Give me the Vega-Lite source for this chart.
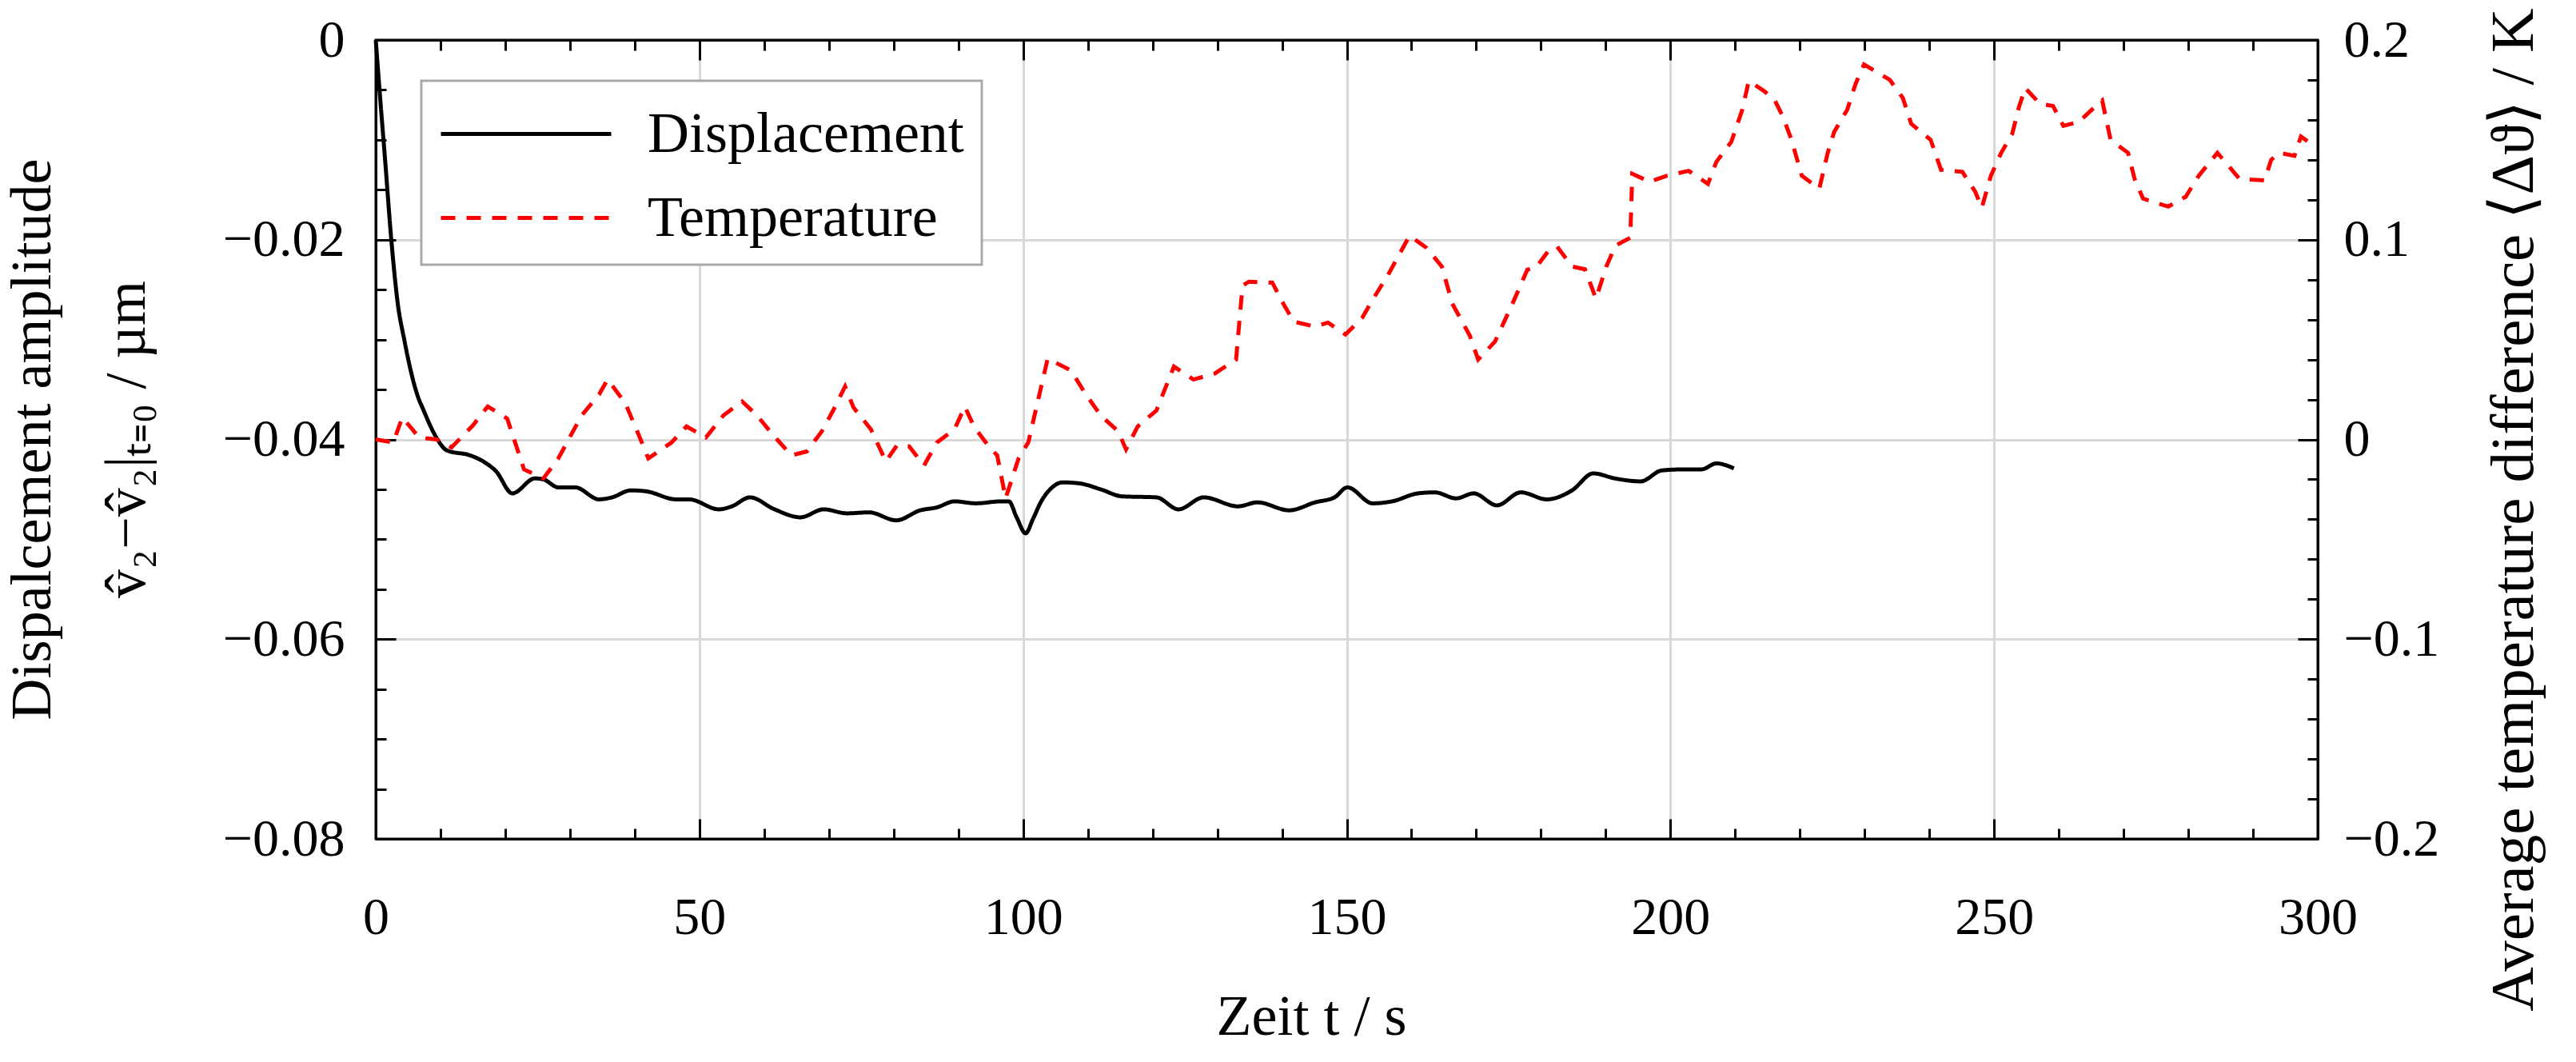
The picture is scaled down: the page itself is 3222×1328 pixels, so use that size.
{
"$schema": "https://vega.github.io/schema/vega-lite/v6.json",
"width": 2429, "height": 999,
"autosize": {"type": "none"},
"padding": {"left": 470, "top": 50, "right": 323, "bottom": 279},
"background": "white",
"config": {
  "font": "Liberation Serif",
  "view": {"stroke": "black", "strokeWidth": 3},
  "axis": {"tickColor": "black", "tickWidth": 3, "domainColor": "black", "domainWidth": 3, "labelColor": "black", "labelFont": "Liberation Serif", "labelFontSize": 66, "titleFont": "Liberation Serif", "titleFontSize": 72, "titleFontWeight": "normal", "titleColor": "black", "gridColor": "#d9d9d9", "gridWidth": 3, "labelFlush": false, "labelOverlap": false},
  "legend": {"strokeWidth": 3}
},
"data": {"values": [
{"t":0,"v":0,"series":"Displacement"},
{"t":0.7,"v":-0.006,"series":"Displacement"},
{"t":1.44,"v":-0.012,"series":"Displacement"},
{"t":2.4,"v":-0.02,"series":"Displacement"},
{"t":3.4,"v":-0.0264,"series":"Displacement"},
{"t":4.4,"v":-0.030,"series":"Displacement"},
{"t":5.4,"v":-0.0331,"series":"Displacement"},
{"t":6.4,"v":-0.0355,"series":"Displacement"},
{"t":7.4,"v":-0.0371,"series":"Displacement"},
{"t":8.4,"v":-0.0386,"series":"Displacement"},
{"t":9.35,"v":-0.0398,"series":"Displacement"},
{"t":11.0,"v":-0.0411,"series":"Displacement"},
{"t":14.6,"v":-0.0416,"series":"Displacement"},
{"t":16.6,"v":-0.0422,"series":"Displacement"},
{"t":18.6,"v":-0.0432,"series":"Displacement"},
{"t":21.1,"v":-0.0454,"series":"Displacement"},
{"t":24.6,"v":-0.0439,"series":"Displacement"},
{"t":25.9,"v":-0.0440,"series":"Displacement"},
{"t":28.2,"v":-0.0448,"series":"Displacement"},
{"t":30.8,"v":-0.0448,"series":"Displacement"},
{"t":34.5,"v":-0.0460,"series":"Displacement"},
{"t":36.5,"v":-0.0458,"series":"Displacement"},
{"t":39.4,"v":-0.0451,"series":"Displacement"},
{"t":41.8,"v":-0.0452,"series":"Displacement"},
{"t":46.4,"v":-0.0460,"series":"Displacement"},
{"t":48.4,"v":-0.0460,"series":"Displacement"},
{"t":53.0,"v":-0.0470,"series":"Displacement"},
{"t":55.0,"v":-0.0467,"series":"Displacement"},
{"t":57.8,"v":-0.0458,"series":"Displacement"},
{"t":61.6,"v":-0.0470,"series":"Displacement"},
{"t":65.6,"v":-0.0478,"series":"Displacement"},
{"t":69.2,"v":-0.0470,"series":"Displacement"},
{"t":72.8,"v":-0.0474,"series":"Displacement"},
{"t":76.2,"v":-0.0473,"series":"Displacement"},
{"t":80.4,"v":-0.0481,"series":"Displacement"},
{"t":84.1,"v":-0.0471,"series":"Displacement"},
{"t":86.7,"v":-0.0468,"series":"Displacement"},
{"t":89.4,"v":-0.0462,"series":"Displacement"},
{"t":92.7,"v":-0.0464,"series":"Displacement"},
{"t":96.6,"v":-0.0462,"series":"Displacement"},
{"t":97.8,"v":-0.0462,"series":"Displacement"},
{"t":99.0,"v":-0.0478,"series":"Displacement"},
{"t":100.4,"v":-0.0494,"series":"Displacement"},
{"t":101.5,"v":-0.0480,"series":"Displacement"},
{"t":102.8,"v":-0.0462,"series":"Displacement"},
{"t":104.5,"v":-0.0448,"series":"Displacement"},
{"t":106.1,"v":-0.0443,"series":"Displacement"},
{"t":108.7,"v":-0.0444,"series":"Displacement"},
{"t":112.0,"v":-0.0450,"series":"Displacement"},
{"t":115.3,"v":-0.0457,"series":"Displacement"},
{"t":120.6,"v":-0.0458,"series":"Displacement"},
{"t":124.0,"v":-0.0470,"series":"Displacement"},
{"t":127.9,"v":-0.0458,"series":"Displacement"},
{"t":133.2,"v":-0.0467,"series":"Displacement"},
{"t":136.2,"v":-0.0463,"series":"Displacement"},
{"t":141.1,"v":-0.0471,"series":"Displacement"},
{"t":145.1,"v":-0.0463,"series":"Displacement"},
{"t":148.1,"v":-0.0458,"series":"Displacement"},
{"t":150.1,"v":-0.0448,"series":"Displacement"},
{"t":154.0,"v":-0.0464,"series":"Displacement"},
{"t":157.0,"v":-0.0462,"series":"Displacement"},
{"t":161.0,"v":-0.0454,"series":"Displacement"},
{"t":163.6,"v":-0.0453,"series":"Displacement"},
{"t":166.9,"v":-0.0459,"series":"Displacement"},
{"t":169.6,"v":-0.0454,"series":"Displacement"},
{"t":173.2,"v":-0.0466,"series":"Displacement"},
{"t":176.9,"v":-0.0453,"series":"Displacement"},
{"t":180.9,"v":-0.0460,"series":"Displacement"},
{"t":184.8,"v":-0.0451,"series":"Displacement"},
{"t":188.1,"v":-0.0434,"series":"Displacement"},
{"t":191.4,"v":-0.0439,"series":"Displacement"},
{"t":195.4,"v":-0.0442,"series":"Displacement"},
{"t":198.7,"v":-0.0431,"series":"Displacement"},
{"t":202.0,"v":-0.0430,"series":"Displacement"},
{"t":204.8,"v":-0.0430,"series":"Displacement"},
{"t":207.1,"v":-0.0424,"series":"Displacement"},
{"t":209.8,"v":-0.0429,"series":"Displacement"},
{"t":0,"v":0.0,"series":"Temperature"},
{"t":2.7,"v":-0.0015,"series":"Temperature"},
{"t":4.1,"v":0.011,"series":"Temperature"},
{"t":6.7,"v":0.001,"series":"Temperature"},
{"t":9.4,"v":0.0,"series":"Temperature"},
{"t":11.7,"v":-0.004,"series":"Temperature"},
{"t":15.0,"v":0.007,"series":"Temperature"},
{"t":17.3,"v":0.0165,"series":"Temperature"},
{"t":20.3,"v":0.0105,"series":"Temperature"},
{"t":22.9,"v":-0.015,"series":"Temperature"},
{"t":25.9,"v":-0.0195,"series":"Temperature"},
{"t":28.2,"v":-0.0095,"series":"Temperature"},
{"t":31.8,"v":0.012,"series":"Temperature"},
{"t":34.5,"v":0.0225,"series":"Temperature"},
{"t":35.8,"v":0.030,"series":"Temperature"},
{"t":38.5,"v":0.0185,"series":"Temperature"},
{"t":40.4,"v":0.004,"series":"Temperature"},
{"t":42.1,"v":-0.0095,"series":"Temperature"},
{"t":45.7,"v":-0.0015,"series":"Temperature"},
{"t":48.0,"v":0.0065,"series":"Temperature"},
{"t":51.0,"v":0.001,"series":"Temperature"},
{"t":53.7,"v":0.012,"series":"Temperature"},
{"t":56.6,"v":0.019,"series":"Temperature"},
{"t":58.9,"v":0.012,"series":"Temperature"},
{"t":61.3,"v":0.0025,"series":"Temperature"},
{"t":64.2,"v":-0.008,"series":"Temperature"},
{"t":66.6,"v":-0.006,"series":"Temperature"},
{"t":68.9,"v":0.004,"series":"Temperature"},
{"t":70.9,"v":0.016,"series":"Temperature"},
{"t":72.5,"v":0.0265,"series":"Temperature"},
{"t":73.8,"v":0.016,"series":"Temperature"},
{"t":76.5,"v":0.005,"series":"Temperature"},
{"t":78.8,"v":-0.011,"series":"Temperature"},
{"t":80.5,"v":-0.003,"series":"Temperature"},
{"t":82.4,"v":-0.0035,"series":"Temperature"},
{"t":84.7,"v":-0.013,"series":"Temperature"},
{"t":86.7,"v":-0.0015,"series":"Temperature"},
{"t":89.4,"v":0.005,"series":"Temperature"},
{"t":91.0,"v":0.0165,"series":"Temperature"},
{"t":92.4,"v":0.0065,"series":"Temperature"},
{"t":94.7,"v":-0.0035,"series":"Temperature"},
{"t":96.0,"v":-0.008,"series":"Temperature"},
{"t":97.3,"v":-0.0295,"series":"Temperature"},
{"t":99.3,"v":-0.0095,"series":"Temperature"},
{"t":100.8,"v":-0.0015,"series":"Temperature"},
{"t":102.8,"v":0.0265,"series":"Temperature"},
{"t":103.8,"v":0.0405,"series":"Temperature"},
{"t":107.4,"v":0.0345,"series":"Temperature"},
{"t":109.7,"v":0.0225,"series":"Temperature"},
{"t":112.0,"v":0.012,"series":"Temperature"},
{"t":114.7,"v":0.004,"series":"Temperature"},
{"t":115.9,"v":-0.005,"series":"Temperature"},
{"t":117.7,"v":0.0065,"series":"Temperature"},
{"t":120.6,"v":0.0145,"series":"Temperature"},
{"t":123.3,"v":0.0365,"series":"Temperature"},
{"t":126.3,"v":0.030,"series":"Temperature"},
{"t":129.6,"v":0.033,"series":"Temperature"},
{"t":132.9,"v":0.040,"series":"Temperature"},
{"t":133.9,"v":0.077,"series":"Temperature"},
{"t":134.9,"v":0.079,"series":"Temperature"},
{"t":138.5,"v":0.0785,"series":"Temperature"},
{"t":140.2,"v":0.068,"series":"Temperature"},
{"t":141.8,"v":0.059,"series":"Temperature"},
{"t":145.1,"v":0.0565,"series":"Temperature"},
{"t":147.1,"v":0.0585,"series":"Temperature"},
{"t":149.8,"v":0.0525,"series":"Temperature"},
{"t":152.4,"v":0.061,"series":"Temperature"},
{"t":154.1,"v":0.0705,"series":"Temperature"},
{"t":156.4,"v":0.0825,"series":"Temperature"},
{"t":159.7,"v":0.102,"series":"Temperature"},
{"t":162.3,"v":0.096,"series":"Temperature"},
{"t":164.7,"v":0.0865,"series":"Temperature"},
{"t":166.3,"v":0.068,"series":"Temperature"},
{"t":169.0,"v":0.052,"series":"Temperature"},
{"t":170.3,"v":0.040,"series":"Temperature"},
{"t":172.9,"v":0.049,"series":"Temperature"},
{"t":175.6,"v":0.068,"series":"Temperature"},
{"t":177.9,"v":0.085,"series":"Temperature"},
{"t":179.2,"v":0.086,"series":"Temperature"},
{"t":181.2,"v":0.0946,"series":"Temperature"},
{"t":182.5,"v":0.0965,"series":"Temperature"},
{"t":184.8,"v":0.0866,"series":"Temperature"},
{"t":186.8,"v":0.0852,"series":"Temperature"},
{"t":188.5,"v":0.0705,"series":"Temperature"},
{"t":190.1,"v":0.0866,"series":"Temperature"},
{"t":191.5,"v":0.097,"series":"Temperature"},
{"t":193.8,"v":0.101,"series":"Temperature"},
{"t":194.1,"v":0.133,"series":"Temperature"},
{"t":196.8,"v":0.129,"series":"Temperature"},
{"t":199.4,"v":0.132,"series":"Temperature"},
{"t":202.8,"v":0.1345,"series":"Temperature"},
{"t":205.8,"v":0.128,"series":"Temperature"},
{"t":207.1,"v":0.139,"series":"Temperature"},
{"t":209.4,"v":0.149,"series":"Temperature"},
{"t":211.1,"v":0.165,"series":"Temperature"},
{"t":212.1,"v":0.1795,"series":"Temperature"},
{"t":214.4,"v":0.1746,"series":"Temperature"},
{"t":216.0,"v":0.1705,"series":"Temperature"},
{"t":217.4,"v":0.1615,"series":"Temperature"},
{"t":218.7,"v":0.150,"series":"Temperature"},
{"t":220.3,"v":0.132,"series":"Temperature"},
{"t":223.0,"v":0.1256,"series":"Temperature"},
{"t":224.3,"v":0.1435,"series":"Temperature"},
{"t":225.3,"v":0.154,"series":"Temperature"},
{"t":227.3,"v":0.165,"series":"Temperature"},
{"t":228.6,"v":0.178,"series":"Temperature"},
{"t":229.9,"v":0.1877,"series":"Temperature"},
{"t":233.9,"v":0.180,"series":"Temperature"},
{"t":235.9,"v":0.171,"series":"Temperature"},
{"t":237.2,"v":0.158,"series":"Temperature"},
{"t":240.2,"v":0.150,"series":"Temperature"},
{"t":241.8,"v":0.135,"series":"Temperature"},
{"t":245.1,"v":0.134,"series":"Temperature"},
{"t":247.1,"v":0.124,"series":"Temperature"},
{"t":248.1,"v":0.116,"series":"Temperature"},
{"t":249.5,"v":0.132,"series":"Temperature"},
{"t":251.1,"v":0.1435,"series":"Temperature"},
{"t":252.8,"v":0.153,"series":"Temperature"},
{"t":253.8,"v":0.166,"series":"Temperature"},
{"t":254.8,"v":0.176,"series":"Temperature"},
{"t":257.1,"v":0.168,"series":"Temperature"},
{"t":259.1,"v":0.167,"series":"Temperature"},
{"t":260.7,"v":0.157,"series":"Temperature"},
{"t":263.1,"v":0.159,"series":"Temperature"},
{"t":265.4,"v":0.166,"series":"Temperature"},
{"t":266.7,"v":0.1697,"series":"Temperature"},
{"t":268.0,"v":0.150,"series":"Temperature"},
{"t":270.7,"v":0.1435,"series":"Temperature"},
{"t":271.7,"v":0.1305,"series":"Temperature"},
{"t":273.0,"v":0.1206,"series":"Temperature"},
{"t":276.9,"v":0.1166,"series":"Temperature"},
{"t":279.6,"v":0.1215,"series":"Temperature"},
{"t":281.6,"v":0.132,"series":"Temperature"},
{"t":284.5,"v":0.1435,"series":"Temperature"},
{"t":286.2,"v":0.137,"series":"Temperature"},
{"t":287.9,"v":0.1305,"series":"Temperature"},
{"t":291.8,"v":0.1297,"series":"Temperature"},
{"t":292.8,"v":0.140,"series":"Temperature"},
{"t":294.1,"v":0.1435,"series":"Temperature"},
{"t":296.4,"v":0.142,"series":"Temperature"},
{"t":297.4,"v":0.1517,"series":"Temperature"},
{"t":299.0,"v":0.148,"series":"Temperature"}
]},
"resolve": {"scale": {"y": "independent"}, "axis": {"x": "independent", "y": "independent"}},
"layer": [
 {
  "transform": [{"filter": "datum.series === 'Displacement'"}],
  "mark": {"type": "line", "strokeWidth": 5, "interpolate": "monotone"},
  "encoding": {
   "x": {"field": "t", "type": "quantitative", "scale": {"domain": [0, 300], "nice": false, "zero": false},
    "axis": {"orient": "bottom", "values": [0,50,100,150,200,250,300], "format": "d", "tickSize": -25, "labelPadding": 91, "grid": true,
     "gridOpacity": {"condition": {"test": "datum.value > 0 && datum.value < 300", "value": 1}, "value": 0},
     "title": "Zeit t / s", "titleX": 1170, "titleY": 244, "titleBaseline": "alphabetic", "titleAlign": "center"}},
   "y": {"field": "v", "type": "quantitative", "scale": {"domain": [-0.08, 0], "nice": false, "zero": false},
    "axis": {"orient": "left", "values": [-0.08,-0.06,-0.04,-0.02,0], "format": ".2~f", "tickSize": -25, "labelPadding": 64, "grid": true,
     "gridOpacity": {"condition": {"test": "datum.value > -0.079 && datum.value < -0.001", "value": 1}, "value": 0},
     "title": ["Dispalcement amplitude", "v̂₂−v̂₂|ₜ₌₀ / µm"], "titleAngle": 270, "titleBaseline": "alphabetic", "titleAlign": "center", "titleX": -408, "titleY": 499, "titleLineHeight": 118}},
   "color": {"field": "series", "type": "nominal", "scale": {"domain": ["Displacement", "Temperature"], "range": ["#000000", "#ff0000"]},
    "legend": {"title": null, "orient": "none", "legendX": 57, "legendY": 51, "symbolType": "M-1,0H4.071", "symbolSize": 7056, "symbolStrokeWidth": 5, "labelFontSize": 72, "labelFont": "Liberation Serif", "labelColor": "black", "labelOffset": 172, "rowPadding": 24, "padding": 22, "strokeColor": "#aaaaaa", "fillColor": "white", "labelLimit": 0}},
   "strokeDash": {"field": "series", "type": "nominal", "scale": {"domain": ["Displacement", "Temperature"], "range": [[1, 0], [18, 14]]},
    "legend": {"title": null, "orient": "none", "legendX": 57, "legendY": 51, "symbolType": "M-1,0H4.071", "symbolSize": 7056, "symbolStrokeWidth": 5, "labelFontSize": 72, "labelFont": "Liberation Serif", "labelColor": "black", "labelOffset": 172, "rowPadding": 24, "padding": 22, "strokeColor": "#aaaaaa", "fillColor": "white", "labelLimit": 0}}
  }
 },
 {
  "transform": [{"filter": "datum.series === 'Temperature'"}],
  "mark": {"type": "line", "strokeWidth": 5, "interpolate": "linear"},
  "encoding": {
   "x": {"field": "t", "type": "quantitative", "scale": {"domain": [0, 300], "nice": false, "zero": false},
    "axis": {"orient": "top", "values": [0,50,100,150,200,250,300], "tickSize": -25, "labels": false, "grid": false, "title": null}},
   "y": {"field": "v", "type": "quantitative", "scale": {"domain": [-0.2, 0.2], "nice": false, "zero": false},
    "axis": {"orient": "right", "values": [-0.2,-0.1,0,0.1,0.2], "format": ".1~f", "tickSize": -25, "labelPadding": 57, "grid": false,
     "title": "Average temperature difference ⟨Δϑ⟩ / K", "titleFontSize": 77, "titleAngle": 270, "titleBaseline": "alphabetic", "titleAlign": "center", "titleX": 268, "titleY": 587}},
   "color": {"field": "series", "type": "nominal", "scale": {"domain": ["Displacement", "Temperature"], "range": ["#000000", "#ff0000"]},
    "legend": {"title": null, "orient": "none", "legendX": 57, "legendY": 51, "symbolType": "M-1,0H4.071", "symbolSize": 7056, "symbolStrokeWidth": 5, "labelFontSize": 72, "labelFont": "Liberation Serif", "labelColor": "black", "labelOffset": 172, "rowPadding": 24, "padding": 22, "strokeColor": "#aaaaaa", "fillColor": "white", "labelLimit": 0}},
   "strokeDash": {"field": "series", "type": "nominal", "scale": {"domain": ["Displacement", "Temperature"], "range": [[1, 0], [18, 14]]},
    "legend": {"title": null, "orient": "none", "legendX": 57, "legendY": 51, "symbolType": "M-1,0H4.071", "symbolSize": 7056, "symbolStrokeWidth": 5, "labelFontSize": 72, "labelFont": "Liberation Serif", "labelColor": "black", "labelOffset": 172, "rowPadding": 24, "padding": 22, "strokeColor": "#aaaaaa", "fillColor": "white", "labelLimit": 0}}
  }
 },
 {
  "transform": [{"filter": "datum.series === 'Displacement'"}],
  "mark": {"type": "line", "opacity": 0},
  "encoding": {
   "x": {"field": "t", "type": "quantitative", "scale": {"domain": [0, 300], "nice": false, "zero": false},
    "axis": {"orient": "bottom", "values": [10,20,30,40,60,70,80,90,110,120,130,140,160,170,180,190,210,220,230,240,260,270,280,290], "tickSize": -13, "labels": false, "domain": false, "grid": false, "title": null}},
   "y": {"field": "v", "type": "quantitative", "scale": {"domain": [-0.08, 0], "nice": false, "zero": false},
    "axis": {"orient": "left", "values": [-0.075,-0.07,-0.065,-0.055,-0.05,-0.045,-0.035,-0.03,-0.025,-0.015,-0.01,-0.005], "tickSize": -13, "labels": false, "domain": false, "grid": false, "title": null}}
  }
 },
 {
  "transform": [{"filter": "datum.series === 'Temperature'"}],
  "mark": {"type": "line", "opacity": 0},
  "encoding": {
   "x": {"field": "t", "type": "quantitative", "scale": {"domain": [0, 300], "nice": false, "zero": false},
    "axis": {"orient": "top", "values": [10,20,30,40,60,70,80,90,110,120,130,140,160,170,180,190,210,220,230,240,260,270,280,290], "tickSize": -13, "labels": false, "domain": false, "grid": false, "title": null}},
   "y": {"field": "v", "type": "quantitative", "scale": {"domain": [-0.2, 0.2], "nice": false, "zero": false},
    "axis": {"orient": "right", "values": [-0.18,-0.16,-0.14,-0.12,-0.08,-0.06,-0.04,-0.02,0.02,0.04,0.06,0.08,0.12,0.14,0.16,0.18], "tickSize": -13, "labels": false, "domain": false, "grid": false, "title": null}}
  }
 }
]
}
